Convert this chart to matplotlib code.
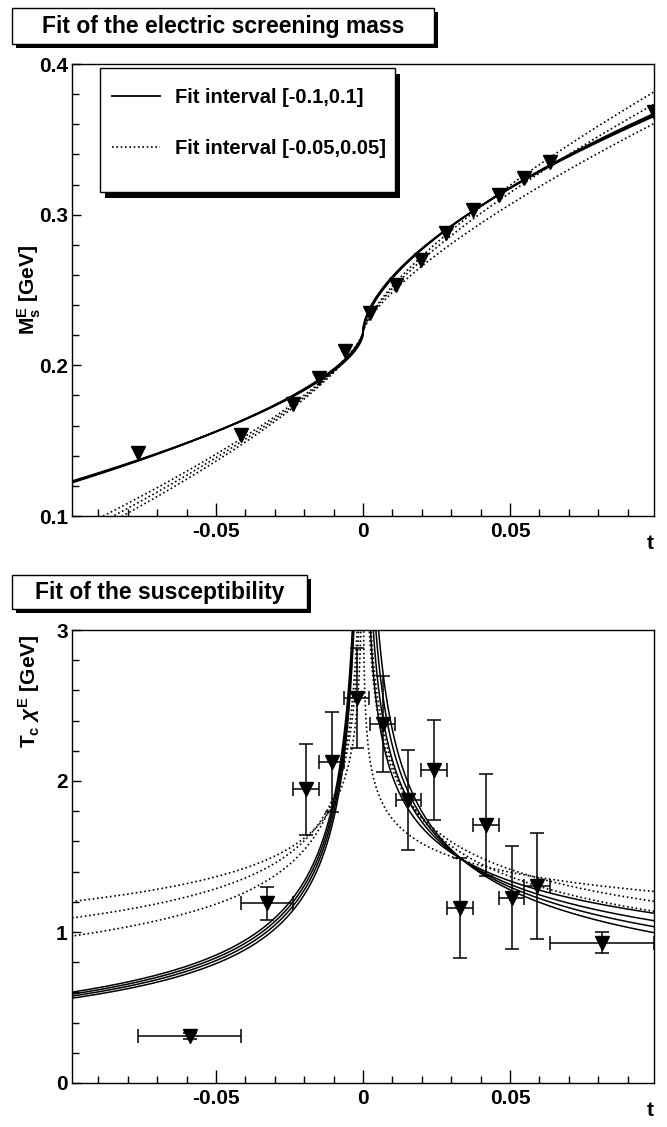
import numpy as np
import matplotlib
matplotlib.use('Agg')
import matplotlib.pyplot as plt
from matplotlib.patches import Rectangle
from matplotlib.ticker import MultipleLocator

plt.rcParams['font.family'] = ['Liberation Sans', 'DejaVu Sans']
plt.rcParams['font.weight'] = 'bold'
plt.rcParams['mathtext.fontset'] = 'custom'
plt.rcParams['mathtext.rm'] = 'Liberation Sans:bold'
plt.rcParams['mathtext.it'] = 'Liberation Sans:italic'
plt.rcParams['mathtext.bf'] = 'Liberation Sans:bold'
plt.rcParams['axes.unicode_minus'] = False

# electric screening mass vs reduced temperature t
t_mass = [-0.0764, -0.0415, -0.0239, -0.0150, -0.0062, 0.0025, 0.0111,
          0.0197, 0.0284, 0.0373, 0.0463, 0.0548, 0.0637, 0.0989]
m_mass = [0.1418, 0.1537, 0.1743, 0.1914, 0.2097, 0.2345, 0.2530,
          0.2699, 0.2876, 0.3031, 0.3130, 0.3241, 0.3351, 0.3683]

# susceptibility (finite differences of the mass)
t_chi = [-0.0589, -0.0327, -0.0195, -0.0107, -0.0021, 0.0067, 0.0154,
         0.0242, 0.0330, 0.0418, 0.0506, 0.0593, 0.0813]
t_chi_err = [0.0175, 0.0088, 0.0044, 0.0044, 0.0043, 0.0043, 0.0043,
             0.0043, 0.0044, 0.0045, 0.0042, 0.0044, 0.0176]
chi = [0.311, 1.190, 1.945, 2.128, 2.548, 2.378, 1.874,
       2.073, 1.157, 1.709, 1.227, 1.305, 0.929]
chi_err = [0.02, 0.11, 0.30, 0.33, 0.33, 0.32, 0.33,
           0.33, 0.33, 0.34, 0.34, 0.35, 0.07]

# mass fits: M = mc + a+ |t|^nu (t>0), mc - a- |t|^nu (t<0)
wide_mc = [0.222, 0.221, 0.223]
wide_ap = [0.577, 0.585, 0.570]
wide_am = [0.398, 0.392, 0.404]
wide_nu = [0.60, 0.60, 0.60]
narrow_mc = [0.222, 0.222, 0.222]
narrow_ap = [0.843, 0.800, 0.732]
narrow_am = [0.700, 0.720, 0.740]
narrow_nu = [0.72, 0.72, 0.72]

# susceptibility fits: chi = c * (|t - tc| / 0.1)^(-gamma), per side
chi_wide_tc = [0.0005, 0.0005, 0.0005, 0.0005]
chi_wide_cm = [0.600, 0.587, 0.574, 0.560]
chi_wide_gm = [0.505, 0.505, 0.505, 0.505]
chi_wide_cp = [1.12, 1.07, 1.03, 0.99]
chi_wide_gp = [0.253, 0.294, 0.329, 0.365]
chi_narrow_tc = [0.0, 0.0, 0.0]
chi_narrow_cm = [1.20, 1.09, 0.97]
chi_narrow_gm = [0.187, 0.240, 0.289]
chi_narrow_cp = [1.267, 1.20, 1.134]
chi_narrow_gp = [0.14, 0.238, 0.27]

legend_labels = ['Fit interval [-0.1,0.1]', 'Fit interval [-0.05,0.05]']
x_ticks = [-0.05, 0.0, 0.05]
x_tick_labels = ['-0.05', '0', '0.05']
m_ticks = [0.1, 0.2, 0.3, 0.4]
m_tick_labels = ['0.1', '0.2', '0.3', '0.4']
chi_ticks = [0, 1, 2, 3]
chi_tick_labels = ['0', '1', '2', '3']

W, H = 667, 1127


def mass_fit(t, mc, ap, am, nu):
    return np.where(t >= 0, mc + ap * np.abs(t) ** nu, mc - am * np.abs(t) ** nu)


def style_axis(ax):
    ax.set_xlim(-0.099, 0.099)
    ax.set_xticks(x_ticks, x_tick_labels)
    ax.xaxis.set_minor_locator(MultipleLocator(0.01))
    ax.tick_params(which='both', direction='in', top=False, right=False,
                   width=1.0, labelsize=15)
    ax.tick_params(axis='x', which='major', length=9.5, pad=4)
    ax.tick_params(axis='x', which='minor', length=5)
    ax.tick_params(axis='y', which='major', length=6.5, pad=3)
    ax.tick_params(axis='y', which='minor', length=5)
    for s in ax.spines.values():
        s.set_linewidth(1.0)
    ax.set_xlabel('t', loc='right', fontsize=15, fontweight='bold', labelpad=-5)


def title_box(x0, y0, x1, y1, text):
    sh = Rectangle(((x0 + 4) / W, 1 - (y1 + 4) / H), (x1 - x0) / W, (y1 - y0) / H,
                   transform=fig.transFigure, fc='black', ec='none')
    box = Rectangle((x0 / W, 1 - y1 / H), (x1 - x0) / W, (y1 - y0) / H,
                    transform=fig.transFigure, fc='white', ec='black', lw=1.0)
    fig.patches.extend([sh, box])
    fig.text((x0 + x1) / 2 / W, 1 - (y0 + y1) / 2 / H, text,
             ha='center', va='center', fontsize=16.5, fontweight='bold')


fig = plt.figure(figsize=(W / 100, H / 100), dpi=100)

# ---- screening mass ----
ax1 = fig.add_axes([72 / W, 1 - 516 / H, 582 / W, 452 / H])
tt = np.linspace(-0.099, 0.099, 2001)
solid = dotted = None
for i in range(len(wide_mc)):
    solid, = ax1.plot(tt, mass_fit(tt, wide_mc[i], wide_ap[i], wide_am[i], wide_nu[i]),
                      color='black', lw=1.3)
for i in range(len(narrow_mc)):
    dotted, = ax1.plot(tt, mass_fit(tt, narrow_mc[i], narrow_ap[i], narrow_am[i], narrow_nu[i]),
                       color='black', lw=1.2, ls=(0, (1, 1.6)))
ax1.plot(t_mass, m_mass, 'v', color='black', ms=10.5, zorder=6)
ax1.set_ylim(0.1, 0.4)
ax1.set_yticks(m_ticks, m_tick_labels)
ax1.yaxis.set_minor_locator(MultipleLocator(0.02))
style_axis(ax1)
ax1.set_ylabel(r'$\mathrm{M_{s}^{E}}$ [GeV]', fontsize=15, fontweight='bold')
ax1.yaxis.set_label_coords(-0.050, 0.5)

# legend with shadowed frame
ax1.add_patch(Rectangle((0.048 + 5 / 582, 0.717 - 6 / 452), 0.507, 0.274,
                        transform=ax1.transAxes, fc='black', ec='none', zorder=7))
ax1.add_patch(Rectangle((0.048, 0.717), 0.507, 0.274, transform=ax1.transAxes,
                        fc='white', ec='black', lw=1.0, zorder=7.1))
leg = ax1.legend([solid, dotted], legend_labels, loc='upper left',
                 bbox_to_anchor=(0.0687, 0.947), frameon=False, fontsize=14.5,
                 handlelength=2.4, handletextpad=0.75, labelspacing=1.6,
                 borderpad=0, borderaxespad=0)
leg.set_zorder(8)

# ---- susceptibility ----
ax2 = fig.add_axes([72 / W, 1 - 1083 / H, 582 / W, 453 / H])
d = np.geomspace(1e-6, 0.2, 3000)
for i in range(len(chi_wide_tc)):
    tc = chi_wide_tc[i]
    ax2.plot(tc - d, chi_wide_cm[i] * (d / 0.1) ** (-chi_wide_gm[i]), color='black', lw=1.1)
    ax2.plot(tc + d, chi_wide_cp[i] * (d / 0.1) ** (-chi_wide_gp[i]), color='black', lw=1.1)
for i in range(len(chi_narrow_tc)):
    tc = chi_narrow_tc[i]
    ax2.plot(tc - d, chi_narrow_cm[i] * (d / 0.1) ** (-chi_narrow_gm[i]),
             color='black', lw=1.2, ls=(0, (1, 1.6)))
    ax2.plot(tc + d, chi_narrow_cp[i] * (d / 0.1) ** (-chi_narrow_gp[i]),
             color='black', lw=1.2, ls=(0, (1, 1.6)))
ax2.errorbar(t_chi, chi, xerr=t_chi_err, yerr=chi_err, fmt='v', color='black',
             ms=10.5, capsize=5, elinewidth=1.1, capthick=1.1, zorder=6)
ax2.set_ylim(0, 3)
ax2.set_yticks(chi_ticks, chi_tick_labels)
ax2.yaxis.set_minor_locator(MultipleLocator(0.2))
style_axis(ax2)
ax2.set_ylabel(r'$\mathrm{T_{c}}\ \chi^{\mathrm{E}}$ [GeV]', fontsize=15,
               fontweight='bold', loc='top')
ax2.yaxis.set_label_coords(-0.052, 0.99)

title_box(12, 8, 434, 44, 'Fit of the electric screening mass')
title_box(12, 575, 307, 609, 'Fit of the susceptibility')

fig.savefig('out.png', dpi=100)
